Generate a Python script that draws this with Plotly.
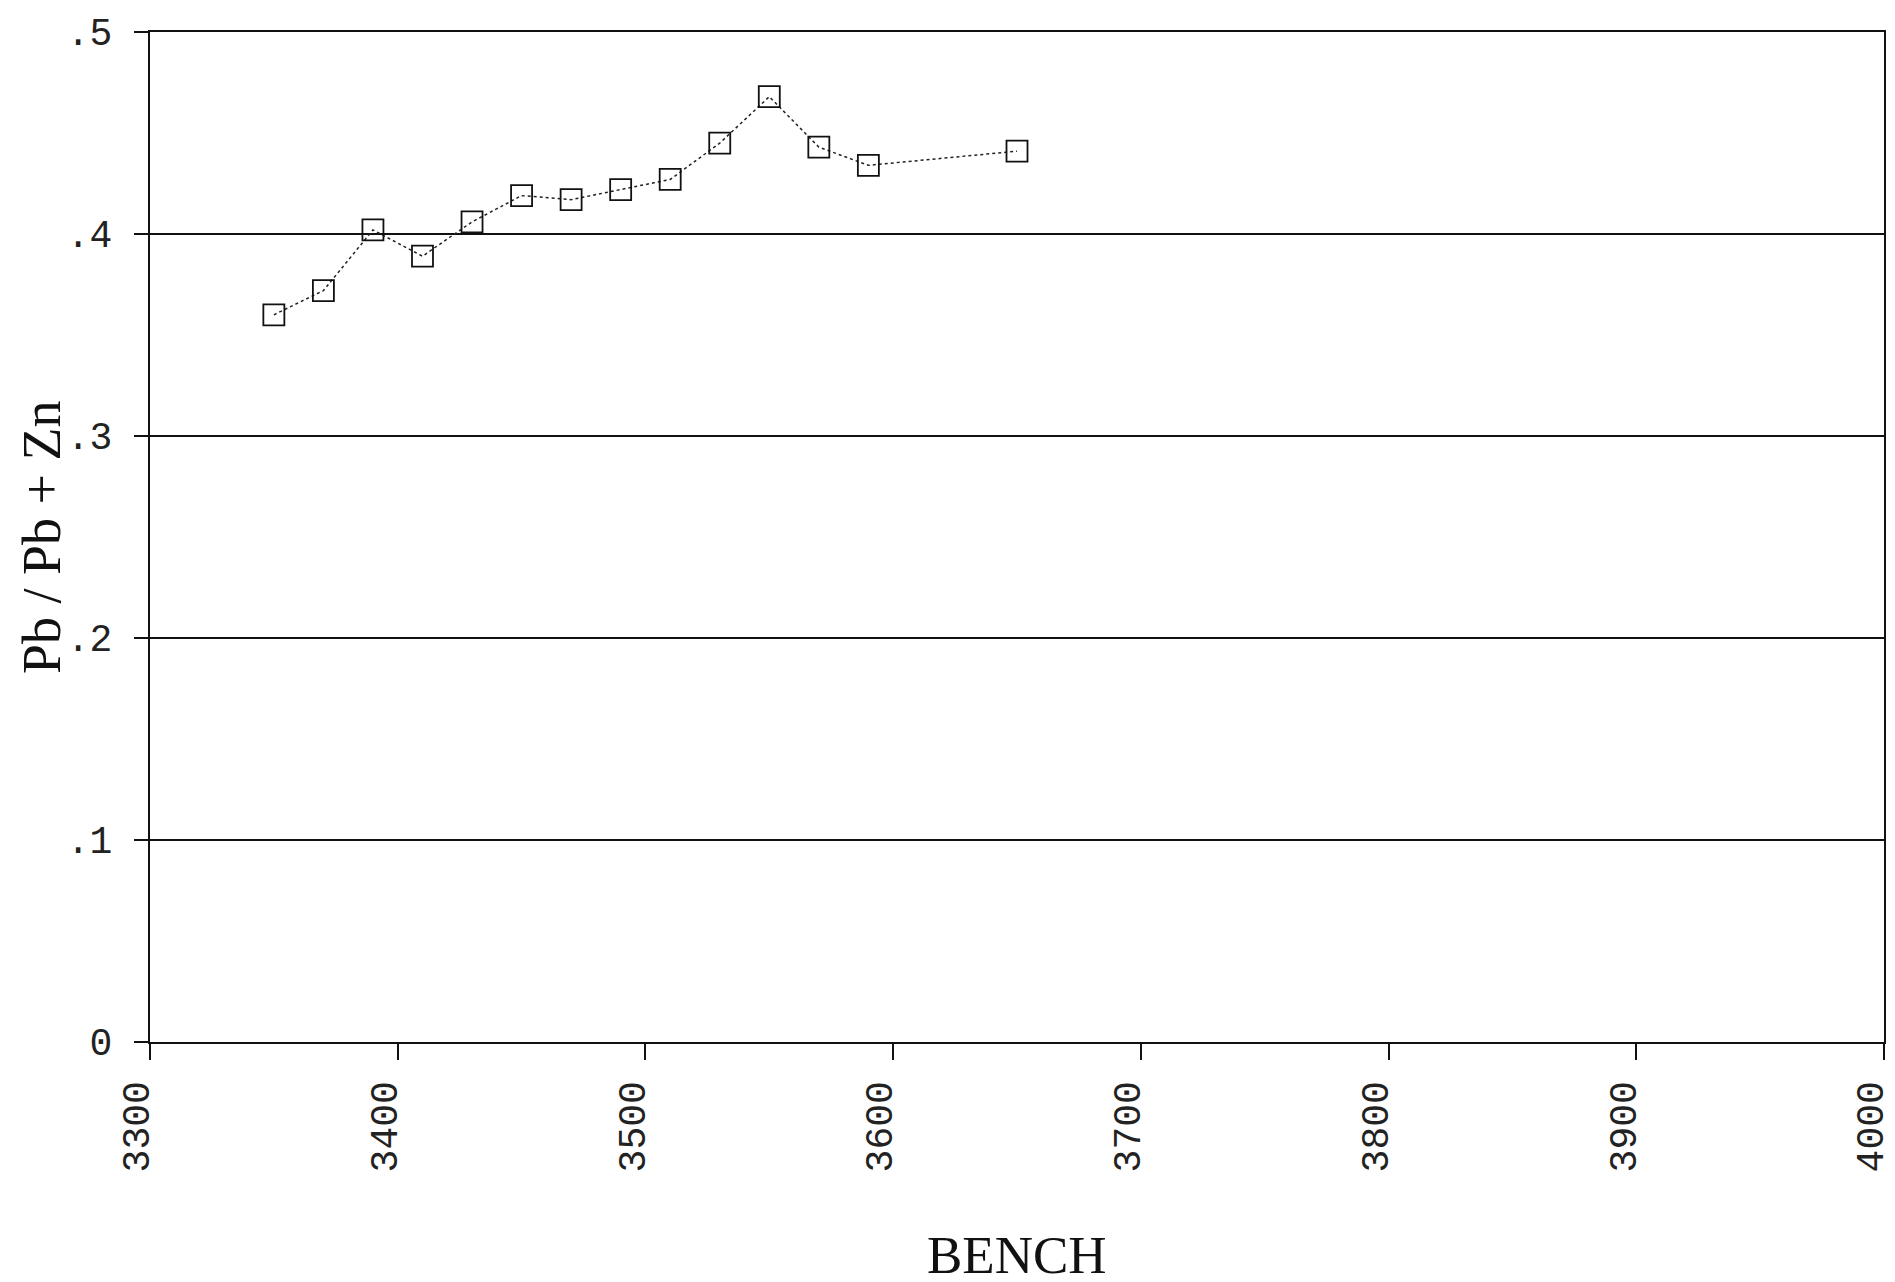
import plotly.graph_objects as go

bench = [3350, 3370, 3390, 3410, 3430, 3450, 3470, 3490, 3510, 3530, 3550, 3570, 3590, 3650]
ratio = [0.360, 0.372, 0.402, 0.389, 0.406, 0.419, 0.417, 0.422, 0.427, 0.445, 0.468, 0.443, 0.434, 0.441]

x_tick_vals = [3300, 3400, 3500, 3600, 3700, 3800, 3900, 4000]
y_tick_vals = [0, 0.1, 0.2, 0.3, 0.4, 0.5]
y_tick_text = ['0', '.1', '.2', '.3', '.4', '.5']

W, H = 1895, 1282
ML, MR, MT, MB = 142, 19, 24, 248

TICK_FONT = dict(family='Liberation Mono, Courier New, monospace', size=38, color='#222222')
TITLE_FONT = dict(family='Liberation Serif, Times New Roman, serif', color='#111111')

fig = go.Figure()
fig.add_trace(go.Scatter(
    x=bench, y=ratio,
    mode='lines+markers',
    line=dict(color='#222222', width=1.5, dash='dot'),
    marker=dict(symbol='square-open', size=21, color='#111111',
                line=dict(color='#111111', width=1.8)),
    showlegend=False,
))

# axis titles placed as annotations (pixel offsets from the plot area)
plot_w = W - ML - MR
plot_h = H - MT - MB
fig.add_annotation(text='Pb / Pb + Zn', textangle=-90, showarrow=False,
                   xref='paper', yref='paper', x=(34 - ML) / plot_w, y=0.5,
                   xanchor='center', yanchor='middle',
                   font=dict(size=54, **TITLE_FONT))
fig.add_annotation(text='BENCH', showarrow=False,
                   xref='paper', yref='paper', x=0.5, y=-(1278 - (H - MB)) / plot_h,
                   xanchor='center', yanchor='bottom',
                   font=dict(size=53, **TITLE_FONT))

fig.update_layout(
    width=W, height=H,
    paper_bgcolor='white', plot_bgcolor='white',
    margin=dict(l=ML, r=MR, t=MT, b=MB),
    xaxis=dict(
        range=[3300, 4000], tickvals=x_tick_vals, tickangle=-90,
        showgrid=False, zeroline=False,
        showline=True, mirror=True, linecolor='#111111', linewidth=2,
        ticks='outside', ticklen=16, tickwidth=1.5, tickcolor='#111111',
        tickfont=TICK_FONT, ticklabelstandoff=6, ticklabelshift=-13,
        ticklabeloverflow='allow',
        automargin=False,
    ),
    yaxis=dict(
        range=[0, 0.5], tickvals=y_tick_vals, ticktext=y_tick_text,
        showgrid=True, gridcolor='#111111', gridwidth=1.5, zeroline=False,
        showline=True, mirror=True, linecolor='#111111', linewidth=2,
        ticks='outside', ticklen=14, tickwidth=1.5, tickcolor='#111111',
        tickfont=TICK_FONT, ticklabelstandoff=14, ticklabeloverflow='allow',
        automargin=False,
    ),
)

fig.write_html("out.html")
